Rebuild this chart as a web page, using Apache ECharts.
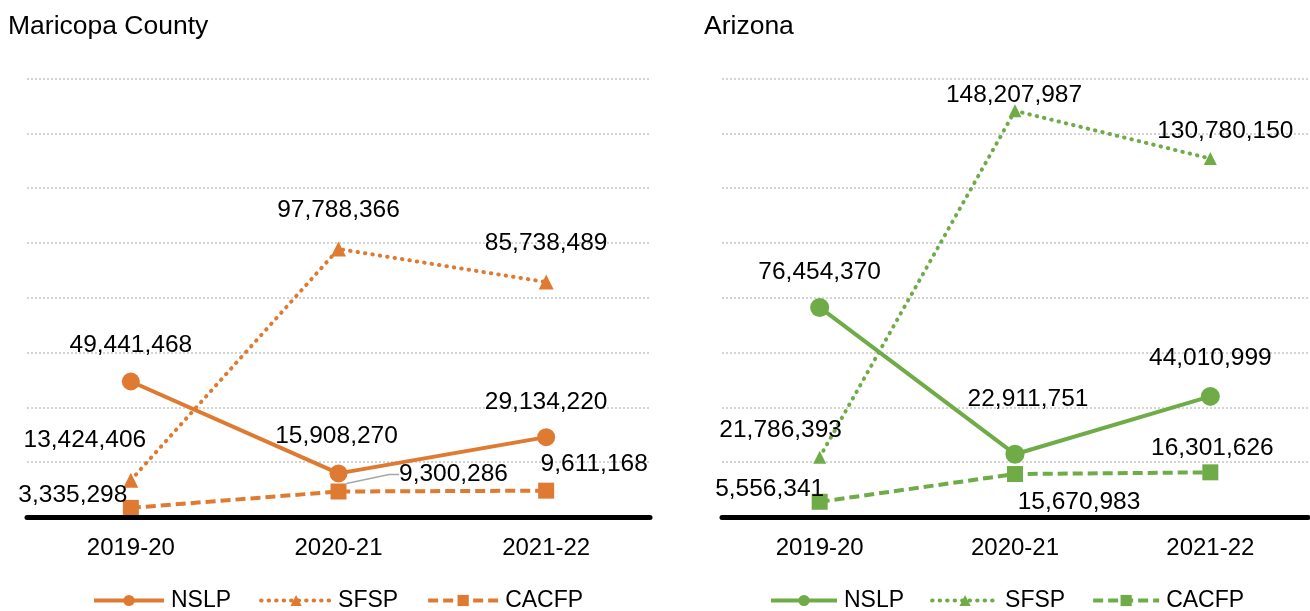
<!DOCTYPE html>
<html>
<head>
<meta charset="utf-8">
<script src="https://cdn.jsdelivr.net/npm/echarts@6/dist/echarts.min.js"></script>
<style>
html,body{margin:0;padding:0;background:#fff;}
#chart{width:1310px;height:611px;}
</style>
</head>
<body>
<div id="chart"></div>
<script>
// ---- data ----
const years = ['2019-20', '2020-21', '2021-22'];
const programs = ['NSLP', 'SFSP', 'CACFP'];
const panelTitles = ['Maricopa County', 'Arizona'];

const mcNSLP  = [49441468, 15908270, 29134220];
const mcSFSP  = [13424406, 97788366, 85738489];
const mcCACFP = [3335298, 9300286, 9611168];

const azNSLP  = [76454370, 22911751, 44010999];
const azSFSP  = [21786393, 148207987, 130780150];
const azCACFP = [5556341, 15670983, 16301626];

const yMax = 160000000;
const yStep = 20000000;

// ---- label placement (pixel offsets from the point) ----
const mcNSLPOff  = [[0, -36], [-2, -37], [0, -35]];
const mcSFSPOff  = [[-46, -40], [0, -39], [0, -39]];
const mcCACFPOff = [[-58, -13], [115, -17], [48, -26]];
const azNSLPOff  = [[0, -35], [13, -55], [0, -38]];
const azSFSPOff  = [[-39, -27], [-1, -16], [15, -27]];
const azCACFPOff = [[-50, -13], [64, 28], [2, -24]];

const ORANGE = '#DE7A31';
const GREEN = '#6FAC48';
const FONT = '"Liberation Sans", Arial, sans-serif';

const fmt = v => Number(v).toLocaleString('en-US');

function buildSeries(name, values, offsets, idx, color, kind, guideIndex) {
  const lineTypes = {
    NSLP: {type: 'solid', cap: 'butt'},
    SFSP: {type: [0.5, 7], cap: 'round'},
    CACFP: {type: [10, 5], cap: 'butt'}
  };
  const symbols = {NSLP: 'circle', SFSP: 'triangle', CACFP: 'rect'};
  const sizes = idx === 0 ? {NSLP: 18, SFSP: 15, CACFP: 16} : {NSLP: 19, SFSP: 13, CACFP: 16};
  const useLayout = guideIndex !== undefined;
  const data = values.map((v, i) => {
    const item = {
      value: v,
      label: {offset: useLayout ? [0, 0] : offsets[i]}
    };
    if (guideIndex === i) {
      item.labelLine = {show: true};
    }
    return item;
  });
  const s = {
    name: name,
    type: 'line',
    xAxisIndex: idx,
    yAxisIndex: idx,
    data: data,
    symbol: symbols[kind],
    symbolSize: sizes[kind],
    showAllSymbol: true,
    color: color,
    lineStyle: {color: color, width: 4, type: lineTypes[kind].type, cap: lineTypes[kind].cap},
    itemStyle: {color: color},
    label: {
      show: true,
      position: 'inside',
      align: 'center',
      verticalAlign: 'middle',
      formatter: p => fmt(p.value),
      fontFamily: FONT,
      fontSize: 24.5,
      color: '#000'
    },
    labelLine: {
      show: false,
      length2: 10,
      lineStyle: {color: '#a6a6a6', width: 1.5}
    },
    emphasis: {disabled: true},
    animation: false,
    z: kind === 'NSLP' ? 3 : 2
  };
  if (useLayout) {
    s.labelLayout = function (params) {
      const o = offsets[params.dataIndex];
      return {dx: o[0], dy: o[1]};
    };
  }
  return s;
}

const series = [
  buildSeries('NSLP', mcNSLP, mcNSLPOff, 0, ORANGE, 'NSLP'),
  buildSeries('SFSP', mcSFSP, mcSFSPOff, 0, ORANGE, 'SFSP'),
  buildSeries('CACFP', mcCACFP, mcCACFPOff, 0, ORANGE, 'CACFP', 1),
  buildSeries('NSLP (AZ)', azNSLP, azNSLPOff, 1, GREEN, 'NSLP'),
  buildSeries('SFSP (AZ)', azSFSP, azSFSPOff, 1, GREEN, 'SFSP'),
  buildSeries('CACFP (AZ)', azCACFP, azCACFPOff, 1, GREEN, 'CACFP')
];

function xAxis(idx) {
  return {
    type: 'category',
    gridIndex: idx,
    data: years,
    boundaryGap: true,
    axisLine: {show: true, lineStyle: {color: '#000', width: 5}},
    axisTick: {show: false},
    axisLabel: {fontFamily: FONT, fontSize: 24, color: '#000', margin: 19},
    splitLine: {show: false},
    z: 5
  };
}
function yAxis(idx) {
  return {
    type: 'value',
    gridIndex: idx,
    min: 0,
    max: yMax,
    interval: yStep,
    axisLine: {show: false},
    axisTick: {show: false},
    axisLabel: {show: false},
    splitLine: {show: true, lineStyle: {color: '#d4d4d4', width: 2, type: [2, 2]}}
  };
}

const legendCommon = {
  orient: 'horizontal',
  top: 584,
  itemHeight: 14,
  textStyle: {fontFamily: FONT, fontSize: 23, color: '#000', padding: [0, 0, 0, 2]},
  lineStyle: {width: 4},
  selectedMode: false,
  formatter: n => n.replace(' (AZ)', '')
};

const option = {
  backgroundColor: '#fff',
  animation: false,
  title: [
    {text: panelTitles[0], left: 3, top: 8, textStyle: {fontFamily: FONT, fontSize: 26.5, fontWeight: 'normal', color: '#000'}},
    {text: panelTitles[1], left: 699, top: 8, textStyle: {fontFamily: FONT, fontSize: 26.5, fontWeight: 'normal', color: '#000'}}
  ],
  grid: [
    {left: 27, right: 660, top: 78.5, bottom: 94},
    {left: 722, right: 2, top: 78.5, bottom: 94}
  ],
  xAxis: [xAxis(0), xAxis(1)],
  yAxis: [yAxis(0), yAxis(1)],
  legend: [
    Object.assign({}, legendCommon, {left: 87, itemWidth: 70, itemGap: 28, data: programs}),
    Object.assign({}, legendCommon, {left: 764, itemWidth: 66, itemGap: 26, data: programs.map(p => p + ' (AZ)')})
  ],
  series: series
};

const chart = echarts.init(document.getElementById('chart'), null, {renderer: 'canvas'});
chart.setOption(option);
</script>
</body>
</html>
